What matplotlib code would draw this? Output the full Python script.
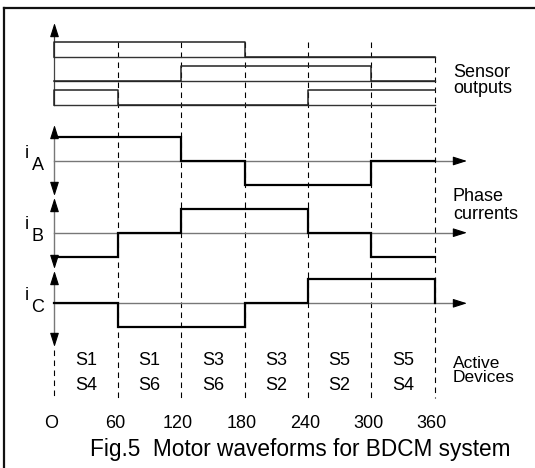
import numpy as np
import matplotlib.pyplot as plt
from matplotlib.lines import Line2D

plt.rcParams['font.family'] = ['Liberation Sans', 'DejaVu Sans']

# 60 degree sectors
angles = [0, 60, 120, 180, 240, 300, 360]
angle_labels = ['O', '60', '120', '180', '240', '300', '360']

# hall sensor states per sector
sensor_1 = [1, 1, 1, 0, 0, 0]
sensor_2 = [0, 0, 1, 1, 1, 0]
sensor_3 = [1, 0, 0, 0, 1, 1]

# phase currents per sector (+1 / 0 / -1)
i_a = [1, 1, 0, -1, -1, 0]
i_b = [-1, 0, 1, 1, 0, -1]
i_c = [0, -1, -1, 0, 1, 1]

devices_top = ['S1', 'S1', 'S3', 'S3', 'S5', 'S5']
devices_bot = ['S4', 'S6', 'S6', 'S2', 'S2', 'S4']

# layout (x in degrees, y in pixels from top)
W, H = 535, 468
x0_px = 54.5
k = 380 / 360.0  # px per degree
FS = 13


def px(xp):
    return (xp - x0_px) / k


fig = plt.figure(figsize=(W / 100, H / 100), dpi=100)
ax = fig.add_axes([0, 0, 1, 1])
ax.set_xlim(px(0), px(W))
ax.set_ylim(H, 0)
ax.axis('off')

# frame (left and top only)
fig.add_artist(Line2D([4 / W, 4 / W], [0, 1 - 7.5 / H], color='#111111', lw=1.6))
fig.add_artist(Line2D([4 / W, 1], [1 - 7.5 / H, 1 - 7.5 / H], color='#111111', lw=1.6))


def steps(vals):
    xs = np.repeat(angles, 2)[1:-1]
    ys = np.repeat(vals, 2)
    return xs, ys


def head(tip, tail):
    ax.annotate('', xy=tip, xytext=tail,
                arrowprops=dict(arrowstyle='-|>,head_length=0.85,head_width=0.27',
                                color='black', lw=0.8, shrinkA=0, shrinkB=0,
                                mutation_scale=10))


# dashed sector lines
dash = (0, (5, 4))
for a in angles[1:-1]:
    ax.plot([a, a], [41.7, 398], color='black', lw=0.8, ls=dash)
ax.plot([360, 360], [57.3, 398], color='black', lw=0.8, ls=dash)
ax.plot([0, 0], [350, 398], color='black', lw=0.8, ls=dash)

# sensor outputs
sensor_base = [57.3, 81.3, 105.3]
sensor_h = 15.7
ax.plot([0, 0], [105.3, 30], color='#444444', lw=0.9)
head((0, 23), (0, 35))
for s, b in zip([sensor_1, sensor_2, sensor_3], sensor_base):
    ax.plot([0, 360], [b, b], color='#333333', lw=1.0)
    xs, ys = steps(s)
    xs = np.concatenate([[0], xs])
    ys = np.concatenate([[0], ys])
    ax.plot(xs, b - sensor_h * ys, color='#222222', lw=1.1)

# phase currents
phase_base = [161, 232.7, 303.3]
phase_amp = 24
axis_top = [125, 198, 271]
axis_bot = [196, 269, 347]
tip_x = px(467)
for n, (cur, b) in enumerate(zip([i_a, i_b, i_c], phase_base)):
    ax.plot([0, 0], [axis_top[n] + 6, axis_bot[n] - 6], color='#777777', lw=1.0)
    head((0, axis_top[n]), (0, axis_top[n] + 12))
    head((0, axis_bot[n]), (0, axis_bot[n] - 12))
    ax.plot([0, tip_x - 6], [b, b], color='#777777', lw=1.0)
    head((tip_x, b), (tip_x - 12 / k, b))
    xs, ys = steps(cur)
    if n == 2:
        xs = np.append(xs, 360)
        ys = np.append(ys, 0)
    ax.plot(xs, b - phase_amp * ys, color='black', lw=1.6, solid_joinstyle='miter')

# phase labels
for b, lab in zip(phase_base, ['A', 'B', 'C']):
    ax.text(px(26.5), b - 3.5, 'i', fontsize=FS, ha='center', va='baseline')
    ax.text(px(37.5), b + 8.5, lab, fontsize=FS, ha='center', va='baseline')

# active devices
for j in range(6):
    mid = (angles[j] + angles[j + 1]) / 2
    ax.text(mid, 365, devices_top[j], fontsize=FS, ha='center', va='baseline')
    ax.text(mid, 390, devices_bot[j], fontsize=FS, ha='center', va='baseline')

# angle labels
for a, lab in zip(angles, angle_labels):
    ax.text(a - 3 / k, 428, lab, fontsize=FS, ha='center', va='baseline')

# right hand labels
for txt, y in [('Sensor', 77), ('outputs', 93), ('Phase', 201), ('currents', 219)]:
    ax.text(px(453), y, txt, fontsize=FS, ha='left', va='baseline')
ax.text(px(453), 382, 'Active\nDevices', fontsize=12.5, ha='left', va='baseline',
        linespacing=0.95)

ax.text(px(300), 456, 'Fig.5  Motor waveforms for BDCM system', fontsize=16.3,
        ha='center', va='baseline')

fig.savefig('out.png', dpi=100)
